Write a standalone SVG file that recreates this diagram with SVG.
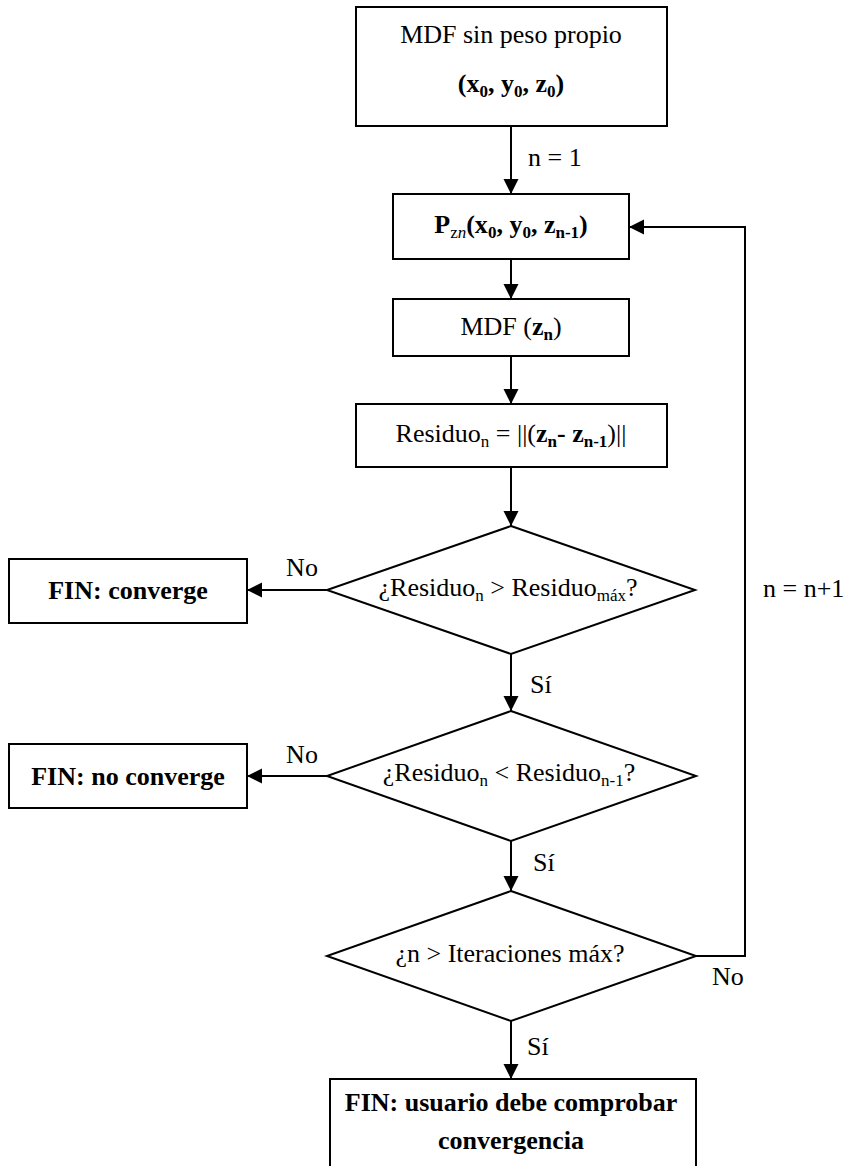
<svg xmlns="http://www.w3.org/2000/svg" width="846" height="1166" viewBox="0 0 846 1166">
<defs>
<style>
.box{fill:#fff;stroke:#000;stroke-width:2}
.ln{fill:none;stroke:#000;stroke-width:2}
text{font-family:"Liberation Serif","Times New Roman",Times,"Nimbus Roman","DejaVu Serif",serif;font-size:26px;font-weight:normal;fill:#000}
.b{font-weight:bold}
.c{text-anchor:middle}
</style>
<marker id="ah" markerUnits="userSpaceOnUse" markerWidth="16" markerHeight="16" refX="15" refY="7.5" orient="auto">
<path d="M0,0 L15,7.5 L0,15 z" fill="#000"/>
</marker>
</defs>
<rect width="846" height="1166" fill="#fff"/>
<g id="connectors">
<line class="ln" x1="511" y1="126" x2="511" y2="194" marker-end="url(#ah)"/>
<line class="ln" x1="511" y1="259" x2="511" y2="299" marker-end="url(#ah)"/>
<line class="ln" x1="511" y1="356" x2="511" y2="404" marker-end="url(#ah)"/>
<line class="ln" x1="511" y1="467" x2="511" y2="526" marker-end="url(#ah)"/>
<line class="ln" x1="327" y1="590" x2="247" y2="590" marker-end="url(#ah)"/>
<line class="ln" x1="511" y1="654" x2="511" y2="711" marker-end="url(#ah)"/>
<line class="ln" x1="327" y1="776" x2="247" y2="776" marker-end="url(#ah)"/>
<line class="ln" x1="511" y1="841" x2="511" y2="891" marker-end="url(#ah)"/>
<line class="ln" x1="511" y1="1021" x2="511" y2="1079" marker-end="url(#ah)"/>
<polyline class="ln" points="696,956 745,956 745,227 629,227" marker-end="url(#ah)"/>
<text x="528" y="166">n = 1</text>
<text x="302" y="576" class="c">No</text>
<text x="763" y="597">n = n+1</text>
<text x="530" y="693">Sí</text>
<text x="302" y="763" class="c">No</text>
<text x="533" y="871">Sí</text>
<text x="712" y="985">No</text>
<text x="527" y="1055">Sí</text>
</g>
<g id="start">
<rect class="box" x="356" y="7" width="311" height="119"/>
<text x="511" y="43" class="c">MDF sin peso propio</text>
<text x="511" y="92" class="c b">(x<tspan font-size="17" dy="5">0</tspan><tspan dy="-5">, y</tspan><tspan font-size="17" dy="5">0</tspan><tspan dy="-5">, z</tspan><tspan font-size="17" dy="5">0</tspan><tspan dy="-5">)</tspan></text>
</g>
<g id="pzn">
<rect class="box" x="393" y="194" width="236" height="65"/>
<text x="511" y="233" class="c"><tspan class="b">P</tspan><tspan font-size="17" dy="5">z<tspan font-style="italic">n</tspan></tspan><tspan class="b" dy="-5">(x</tspan><tspan class="b" font-size="17" dy="5">0</tspan><tspan class="b" dy="-5">, y</tspan><tspan class="b" font-size="17" dy="5">0</tspan><tspan class="b" dy="-5">, z</tspan><tspan class="b" font-size="17" dy="5">n-1</tspan><tspan class="b" dy="-5">)</tspan></text>
</g>
<g id="mdf">
<rect class="box" x="393" y="299" width="236" height="57"/>
<text x="511" y="335" class="c">MDF (<tspan class="b">z</tspan><tspan class="b" font-size="17" dy="5">n</tspan><tspan dy="-5">)</tspan></text>
</g>
<g id="residuo">
<rect class="box" x="356" y="404" width="311" height="63"/>
<text x="511" y="442" class="c">Residuo<tspan font-size="17" dy="5">n</tspan><tspan dy="-5"> = ||(</tspan><tspan class="b">z</tspan><tspan class="b" font-size="17" dy="5">n</tspan><tspan class="b" dy="-5">- z</tspan><tspan class="b" font-size="17" dy="5">n-1</tspan><tspan dy="-5">)||</tspan></text>
</g>
<g id="dec1">
<polygon class="box" points="511,526 695,590 511,654 327,590"/>
<text x="508" y="596" class="c">¿Residuo<tspan font-size="17" dy="5">n</tspan><tspan dy="-5"> &gt; Residuo</tspan><tspan font-size="17" dy="5">máx</tspan><tspan dy="-5">?</tspan></text>
</g>
<g id="fin-converge">
<rect class="box" x="9" y="559" width="238" height="64"/>
<text x="128" y="599" class="c b">FIN: converge</text>
</g>
<g id="dec2">
<polygon class="box" points="511,711 696,776 511,841 327,776"/>
<text x="509" y="781" class="c">¿Residuo<tspan font-size="17" dy="5">n</tspan><tspan dy="-5"> &lt; Residuo</tspan><tspan font-size="17" dy="5">n-1</tspan><tspan dy="-5">?</tspan></text>
</g>
<g id="fin-noconverge">
<rect class="box" x="9" y="744" width="238" height="64"/>
<text x="128" y="785" class="c b">FIN: no converge</text>
</g>
<g id="dec3">
<polygon class="box" points="511,891 696,956 511,1021 327,956"/>
<text x="510" y="962" class="c">¿n &gt; Iteraciones máx?</text>
</g>
<g id="fin-usuario">
<rect class="box" x="330" y="1079" width="366" height="100"/>
<text x="511" y="1111" class="c b">FIN: usuario debe comprobar</text>
<text x="511" y="1149" class="c b">convergencia</text>
</g>
</svg>
